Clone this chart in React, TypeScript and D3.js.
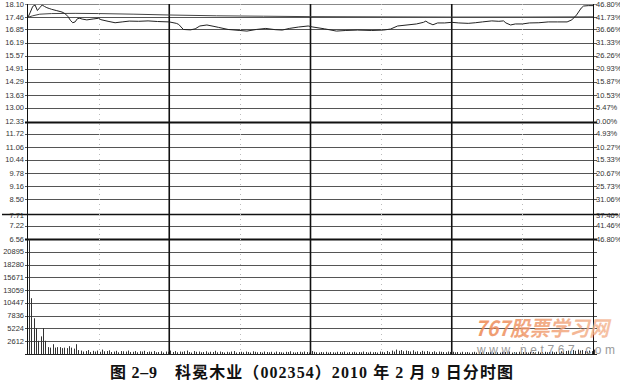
import React from "react";
import * as d3 from "d3";

const W = 620;
const H = 389;

// Left price ticks (top panel) and matching right-side percentage labels
const priceTicks = [18.10, 17.46, 16.85, 16.19, 15.57, 14.91, 14.29, 13.63, 13.00, 12.33, 11.72, 11.06, 10.44, 9.78, 9.16, 8.50, 7.71, 7.22, 6.56];
const pctLabels = ["46.80%", "41.73%", "36.66%", "31.33%", "26.26%", "20.93%", "15.87%", "10.53%", "5.47%", "0.00%", "4.93%", "10.27%", "15.33%", "20.67%", "25.73%", "31.06%", "37.46%", "41.46%", "46.80%"];
const prevClose = 12.33;
const volTicks = [2612, 5224, 7836, 10447, 13059, 15671, 18280, 20895];

// Price line: minute index -> price
const priceMinutes = [0, 1, 2, 3, 4, 5, 6, 7, 8, 9, 10, 12, 14, 15, 16, 17, 18, 19, 20, 21, 22, 23, 25, 28, 30, 31, 34, 37, 40, 43, 47, 51, 55, 60, 63, 64, 66, 69, 71, 73, 76, 79, 81, 85, 90, 93, 97, 101, 105, 108, 111, 115, 119, 121, 126, 131, 135, 140, 146, 151, 154, 157, 161, 165, 168, 169, 170, 172, 174, 177, 180, 183, 187, 190, 193, 197, 200, 202, 203, 205, 207, 210, 213, 217, 221, 225, 229, 231, 233, 235, 236, 238, 240];
const prices = [17.45, 17.70, 17.98, 18.05, 17.78, 17.92, 18.05, 17.98, 17.92, 17.88, 17.84, 17.78, 17.72, 17.68, 17.60, 17.48, 17.30, 17.18, 17.22, 17.38, 17.40, 17.36, 17.32, 17.37, 17.40, 17.33, 17.25, 17.18, 17.22, 17.26, 17.25, 17.27, 17.24, 17.22, 17.15, 17.10, 16.85, 16.83, 16.88, 17.02, 17.07, 17.00, 16.95, 16.85, 16.80, 16.77, 16.85, 16.90, 16.84, 16.82, 16.90, 16.97, 17.02, 16.97, 16.88, 16.77, 16.80, 16.82, 16.80, 16.82, 16.87, 17.02, 17.07, 17.12, 17.20, 17.26, 17.18, 17.08, 17.17, 17.17, 17.20, 17.17, 17.15, 17.18, 17.22, 17.27, 17.25, 17.27, 17.17, 17.07, 17.12, 17.12, 17.17, 17.18, 17.22, 17.22, 17.22, 17.32, 17.56, 17.90, 18.00, 18.02, 18.02];

// Average price line
const avgMinutes = [0, 2, 5, 10, 20, 30, 45, 60, 80, 100, 120, 150, 180, 210, 240];
const avgPrices = [17.45, 17.52, 17.60, 17.63, 17.64, 17.63, 17.60, 17.56, 17.52, 17.50, 17.48, 17.47, 17.46, 17.46, 17.47];

// Volume per minute (241 bars)
const volumes = [
  23400, 11400, 7300, 5300, 2700, 3600, 5300, 2700, 1400, 1300, 2000, 1300, 1400, 1400, 1200, 1300, 1200, 1600, 1300, 1100, 2000, 800,
  700, 500, 600, 800, 400, 650, 500, 700, 450, 900, 550, 600, 750, 400, 500, 650, 350, 600, 550,
  500, 700, 400, 450, 600, 350, 550, 500, 650, 400, 500, 450, 600, 350, 400, 550, 300, 500, 450, 700,
  400, 600, 350, 500, 450, 550, 700, 400, 300, 600, 450, 500, 350, 400, 550, 300, 450, 400, 650, 350,
  500, 400, 300, 450, 350, 500, 600, 300, 400, 450, 350, 500, 400, 300, 550, 450, 350, 400, 300, 500,
  400, 350, 450, 300, 500, 400, 350, 300, 450, 400, 550, 350, 300, 400, 450, 350, 500, 400, 300, 600,
  450, 350, 300, 400, 350, 450, 300, 400, 350, 300, 450, 400, 350, 500, 300, 400, 350, 450, 300, 400,
  350, 500, 400, 300, 450, 350, 400, 300, 500, 450, 350, 600, 400, 700, 500, 900, 650, 800, 550, 700,
  600, 500, 750, 450, 550, 400, 650, 500, 600, 450, 400, 550, 350, 500, 450, 400, 350, 500, 400, 450,
  350, 400, 300, 450, 350, 400, 300, 350, 450, 300, 400, 350, 300, 400, 350, 450, 300, 400, 350, 300,
  450, 400, 350, 500, 300, 400, 350, 450, 300, 400, 350, 300, 450, 400, 350, 500, 300, 400, 450, 350,
  400, 500, 350, 450, 400, 550, 500, 600, 700, 550, 800, 650, 900, 700, 800, 600, 500, 700, 600, 900,
];

const dividerMinutes = [60, 120, 180];
const midMinutes = [30, 90, 150, 210];

const titleFig = "图 2–9";
const titleMain = "科冕木业（002354）2010 年 2 月 9 日分时图";
const watermark1 = "767股票学习网";
const watermark2 = "www.net767.com";

export default function App() {
  const x = d3.scaleLinear().domain([0, 240]).range([28, 593]);
  const yP = d3.scaleLinear().domain([6.56, 18.1]).range([239, 4]);
  const yV = d3.scaleLinear().domain([0, 23507]).range([354, 239]);

  const priceLine = d3
    .line<number>()
    .x((_, i) => x(priceMinutes[i]))
    .y((d) => yP(d));
  const avgLine = d3
    .line<number>()
    .x((_, i) => x(avgMinutes[i]))
    .y((d) => yP(d));

  const r = (v: number) => Math.round(v) + 0.5;
  const font = "'Liberation Sans', Arial, sans-serif";

  return (
    <svg
      width={W}
      height={H}
      style={{ position: "absolute", left: 0, top: 0, background: "#fff" }}
      xmlns="http://www.w3.org/2000/svg"
    >
      <defs>
        <linearGradient id="wm" x1="0" y1="0" x2="1" y2="0">
          <stop offset="0" stopColor="#ec8550" />
          <stop offset="1" stopColor="#f4b896" />
        </linearGradient>
      </defs>
      <rect x={0} y={0} width={W} height={H} fill="#fff" />
      {/* horizontal price grid */}
      {priceTicks.map((p, i) => {
        const y = r(yP(p));
        const special = p === prevClose || p === 6.56;
        const ext = p === 7.71;
        return (
          <line
            key={"pg" + i}
            x1={ext ? 2 : 25}
            x2={ext ? 618 : 597}
            y1={ext ? y - 2 : y}
            y2={ext ? y - 2 : y}
            stroke={special || ext ? "#111" : i === 0 ? "#888" : "#555"}
            strokeWidth={special ? 2.2 : ext ? 1.4 : 1}
          />
        );
      })}
      {/* volume grid */}
      {volTicks.map((v, i) => (
        <line key={"vg" + i} x1={25} x2={597} y1={r(yV(v))} y2={r(yV(v))} stroke="#555" strokeWidth={1} />
      ))}
      <line x1={25} x2={597} y1={r(yV(0))} y2={r(yV(0))} stroke="#222" strokeWidth={1.2} />
      {/* dotted midlines */}
      {midMinutes.map((m, i) => (
        <line key={"mid" + i} x1={r(x(m))} x2={r(x(m))} y1={4} y2={354} stroke="#bbb" strokeWidth={1} strokeDasharray="1,4" />
      ))}
      {/* dividers */}
      {dividerMinutes.map((m, i) => (
        <line key={"dv" + i} x1={x(m)} x2={x(m)} y1={4} y2={354} stroke="#111" strokeWidth={1.6} />
      ))}
      {/* axes */}
      <line x1={r(x(0)) - 1} x2={r(x(0)) - 1} y1={4} y2={354} stroke="#111" strokeWidth={1} />
      <line x1={r(x(240))} x2={r(x(240))} y1={4} y2={354} stroke="#111" strokeWidth={1} />
      {/* volume bars */}
      {volumes.map((v, i) => (
        <line
          key={"vb" + i}
          x1={r(x(i)) + 1}
          x2={r(x(i)) + 1}
          y1={yV(0)}
          y2={yV(v)}
          stroke="#333"
          strokeWidth={1}
        />
      ))}
      {/* average line */}
      <path d={avgLine(avgPrices) || ""} fill="none" stroke="#444" strokeWidth={1} />
      {/* price line */}
      <path d={priceLine(prices) || ""} fill="none" stroke="#222" strokeWidth={1} />
      {/* left price labels */}
      {priceTicks.map((p, i) => (
        <text key={"pl" + i} x={24} y={yP(p) + 2.5} textAnchor="end" fontSize={7.5} fontFamily={font} fill="#333">
          {p.toFixed(2)}
        </text>
      ))}
      {/* right pct labels */}
      {pctLabels.map((s, i) => (
        <text key={"pr" + i} x={596} y={yP(priceTicks[i]) + 2.5} fontSize={7.5} fontFamily={font} fill="#333">
          {s}
        </text>
      ))}
      {/* volume labels */}
      {volTicks.map((v, i) => (
        <text key={"vl" + i} x={24} y={yV(v) + 2.5} textAnchor="end" fontSize={7.5} fontFamily={font} fill="#333">
          {v}
        </text>
      ))}
      {/* watermark */}
      <text
        x={475}
        y={336}
        fontSize={21}
        fontStyle="italic"
        fontWeight="bold"
        fontFamily="'Noto Sans CJK SC', sans-serif"
        fill="url(#wm)"
        fillOpacity={0.85}
        textLength={134}
        lengthAdjust="spacingAndGlyphs"
      >
        {watermark1}
      </text>
      <text x={477} y={354} fontSize={12} fontFamily={font} fill="#9a9a9a" textLength={138} lengthAdjust="spacing">
        {watermark2}
      </text>
      {/* title */}
      <text
        x={110}
        y={378}
        fontSize={16}
        fontWeight="bold"
        fontFamily="'Liberation Serif', 'Noto Sans CJK SC', serif"
        fill="#111"
        textLength={47}
        lengthAdjust="spacing"
      >
        {titleFig}
      </text>
      <text
        x={175}
        y={378}
        fontSize={16}
        fontWeight="bold"
        fontFamily="'Liberation Serif', 'Noto Sans CJK SC', serif"
        fill="#111"
        textLength={338}
        lengthAdjust="spacing"
      >
        {titleMain}
      </text>
    </svg>
  );
}
